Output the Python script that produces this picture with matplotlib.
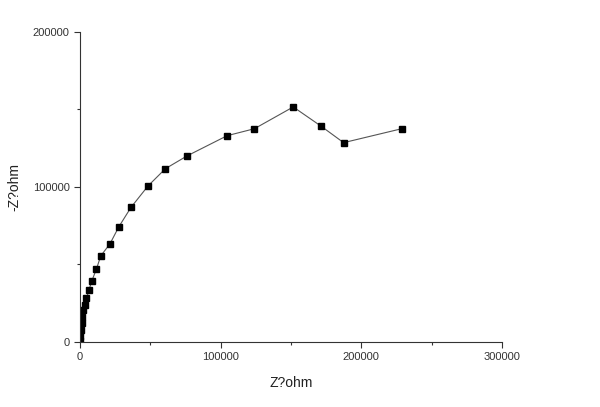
import matplotlib
matplotlib.use("Agg")
import matplotlib.pyplot as plt
from matplotlib.ticker import MultipleLocator

plt.rcParams['font.family'] = ['Liberation Sans', 'DejaVu Sans']

z_real = [0, 270, 550, 1100, 1600, 2500, 3600, 4600, 6300, 8500, 11700, 14800,
          21300, 27600, 36300, 48400, 60700, 76200, 104600, 124000, 151600,
          171600, 187400, 228700]
z_imag = [400, 3600, 7900, 12100, 16400, 20700, 23900, 28100, 33400, 39600, 47100,
          55600, 63300, 74300, 86900, 100700, 111800, 120100, 133100, 137600,
          151650, 139100, 128600, 137600]
x_ticks = [0, 100000, 200000, 300000]
y_ticks = [0, 100000, 200000]

fig = plt.figure(figsize=(6.0, 4.07), dpi=100)
ax = fig.add_axes([0.1333, 0.1597, 0.7034, 0.7617])
ax.plot(z_real, z_imag, '-', color='#555555', linewidth=0.8,
        marker='s', markersize=5, markerfacecolor='black', markeredgecolor='black')

ax.set_xlim(0, 300000)
ax.set_ylim(0, 200000)
ax.set_xticks(x_ticks)
ax.set_yticks(y_ticks)
ax.set_xticklabels([str(t) for t in x_ticks])
ax.set_yticklabels([str(t) for t in y_ticks])
ax.xaxis.set_minor_locator(MultipleLocator(50000))
ax.yaxis.set_minor_locator(MultipleLocator(50000))
ax.tick_params(which='major', direction='out', length=4, width=0.8, labelsize=8,
               colors='#333333', labelcolor='#333333')
ax.tick_params(which='minor', direction='out', length=2, width=0.8, colors='#333333')
for s in ['top', 'right']:
    ax.spines[s].set_visible(False)
for s in ['left', 'bottom']:
    ax.spines[s].set_color('#333333')
    ax.spines[s].set_linewidth(0.8)

ax.set_xlabel('Z?ohm', fontsize=10, color='#222222', labelpad=10)
ax.set_ylabel('-Z?ohm', fontsize=10, color='#222222', labelpad=8)

fig.savefig('out.png', dpi=100)
